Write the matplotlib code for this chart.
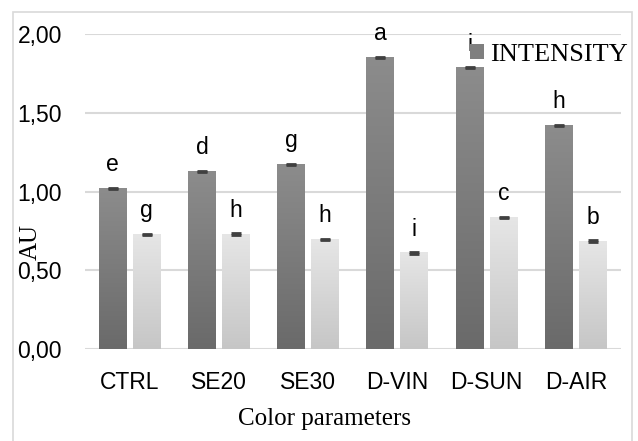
import numpy as np
import matplotlib
matplotlib.use("Agg")
import matplotlib.pyplot as plt
from matplotlib.colors import LinearSegmentedColormap
from matplotlib.patches import Patch, Rectangle
from matplotlib.ticker import FuncFormatter

# -----------------------------------------------------------------

categories = ["CTRL", "SE20", "SE30", "D-VIN", "D-SUN", "D-AIR"]

intensity = [1.02, 1.125, 1.17, 1.85, 1.785, 1.42]
intensity_err = [0.004, 0.004, 0.004, 0.004, 0.004, 0.004]
intensity_letters = ["e", "d", "g", "a", "i", "h"]

second = [0.725, 0.73, 0.695, 0.61, 0.835, 0.685]
second_err = [0.004, 0.004, 0.004, 0.004, 0.004, 0.004]
second_letters = ["g", "h", "h", "i", "c", "b"]

# -----------------------------------------------------------------

sans = "Liberation Sans"
serif = "Liberation Serif"


def gradient_bars(ax, bars, bottom_color, top_color):
    # replace the flat fill of each bar by a vertical gradient
    cmap = LinearSegmentedColormap.from_list("grad", [bottom_color, top_color])
    grad = np.linspace(0, 1, 256).reshape(-1, 1)
    for b in bars:
        x, y = b.get_xy()
        w, h = b.get_width(), b.get_height()
        b.set_facecolor("none")
        ax.imshow(grad, extent=[x, x + w, y, y + h], origin="lower",
                  aspect="auto", cmap=cmap, zorder=2, interpolation="bilinear")


fig = plt.figure(figsize=(6.38, 4.41), dpi=100)
ax = fig.add_axes([85 / 638, 1 - 349 / 441, 535.6 / 638, 315 / 441])

x = np.arange(len(categories))
width = 0.3135
offset = 0.19

b1 = ax.bar(x - offset, intensity, width, color="#7f7f7f", zorder=2)
b2 = ax.bar(x + offset, second, width, color="#d9d9d9", zorder=2)
gradient_bars(ax, b1, "#6a6a6a", "#8c8c8c")
gradient_bars(ax, b2, "#c6c6c6", "#e6e6e6")

ax.errorbar(x - offset, intensity, yerr=intensity_err, fmt="none", ecolor="#404040",
            elinewidth=1, capsize=3.6, capthick=2, zorder=3)
ax.errorbar(x + offset, second, yerr=second_err, fmt="none", ecolor="#404040",
            elinewidth=1, capsize=3.6, capthick=2, zorder=3)

for xi, v, t in zip(x - offset, intensity, intensity_letters):
    ax.text(xi, v + 0.11, t, ha="center", va="baseline", fontsize=16.5,
            family=sans, color="#000000", zorder=4, clip_on=False)
for xi, v, t in zip(x + offset, second, second_letters):
    ax.text(xi, v + 0.11, t, ha="center", va="baseline", fontsize=16.5,
            family=sans, color="#000000", zorder=4, clip_on=False)

ax.set_xlim(-0.5, len(categories) - 0.5)
ax.set_ylim(0, 2.0)
ax.set_yticks([0, 0.5, 1.0, 1.5, 2.0])
ax.yaxis.set_major_formatter(FuncFormatter(lambda v, p: f"{v:.2f}".replace(".", ",")))
ax.set_xticks(x)
ax.set_xticklabels(categories)

for lab in ax.get_xticklabels() + ax.get_yticklabels():
    lab.set_family(sans)
    lab.set_fontsize(16.5)
ax.tick_params(axis="both", length=0)
ax.tick_params(axis="y", pad=16.5)
ax.tick_params(axis="x", pad=16)

ax.grid(axis="y", color="#d9d9d9", linewidth=1.5, zorder=0)
ax.set_axisbelow(True)
for s in ax.spines.values():
    s.set_visible(False)

ax.set_ylabel("AU", family=serif, fontsize=18)
ax.yaxis.set_label_coords((42 - 85) / 535.6, (349 - 242) / 315)
ax.set_xlabel("Color parameters", family=serif, fontsize=18)
ax.xaxis.set_label_coords((325 - 85) / 535.6, (349 - 419) / 315)
ax.xaxis.label.set_va("center")

ax.legend(handles=[Patch(facecolor="#7f7f7f")], labels=["INTENSITY"],
          prop={"family": serif, "size": 19}, frameon=False,
          loc="center left", bbox_to_anchor=((470 - 85) / 535.6, (349 - 55) / 315),
          borderpad=0, borderaxespad=0, handlelength=0.53, handleheight=0.53,
          handletextpad=0.23)

# light border around the chart area
fig.patches.append(Rectangle((13 / 638, -0.02), 619 / 638, (441 - 12) / 441 + 0.02,
                             transform=fig.transFigure, fill=False,
                             edgecolor="#d9d9d9", linewidth=1.2))

fig.savefig("out.png", dpi=100)
